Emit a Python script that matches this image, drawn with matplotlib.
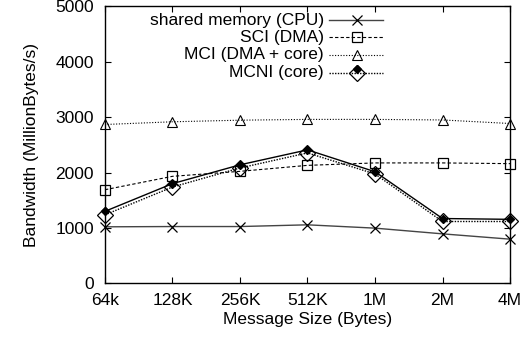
import matplotlib
matplotlib.use("Agg")
import matplotlib.pyplot as plt

plt.rcParams['font.family'] = ['Liberation Sans', 'DejaVu Sans']

sizes = ["64k", "128K", "256K", "512K", "1M", "2M", "4M"]
shared_cpu = [1020, 1025, 1025, 1056, 996, 893, 797]
sci_dma = [1690, 1932, 2022, 2130, 2174, 2174, 2161]
mci_dma_core = [2868, 2917, 2946, 2960, 2960, 2950, 2886]
mcni_core = [1237, 1739, 2083, 2355, 1975, 1116, 1116]
mcni_core_b = [1300, 1800, 2140, 2410, 2015, 1170, 1155]
labels = ["shared memory (CPU)", "SCI (DMA)", "MCI (DMA + core)", "MCNI (core)"]

FS = 12.5
x = list(range(len(sizes)))

fig = plt.figure(figsize=(5.26, 3.40), dpi=100)
ax = fig.add_axes([0.1996, 0.1668, 0.7700, 0.8142])

st_cpu = dict(color='#444444', lw=1.0, marker='x', ms=7, mec='black', mew=0.9)
st_sci = dict(color='black', lw=0.8, ls=(0, (3, 2)), marker='s', ms=7, mfc='none', mec='black', mew=0.9)
st_mci = dict(color='black', lw=0.8, ls=(0, (1, 1.5)), marker='^', ms=6.5, mfc='none', mec='black', mew=0.8)
st_mb = dict(color='black', lw=1.0, ls='-', marker='D', ms=4, mfc='black', mec='black')
st_ma = dict(color='black', lw=1.0, ls=(0, (1, 1)), marker='D', ms=8, mfc='none', mec='black', mew=0.9)

ax.plot(x, shared_cpu, clip_on=False, **st_cpu)
ax.plot(x, sci_dma, clip_on=False, **st_sci)
ax.plot(x, mci_dma_core, clip_on=False, **st_mci)
ax.plot(x, mcni_core_b, clip_on=False, **st_mb)
ax.plot(x, mcni_core, clip_on=False, **st_ma)

ax.set_xlim(0, len(sizes) - 1)
ax.set_ylim(0, 5000)
ax.set_xticks(x)
ax.set_xticklabels(sizes)
ax.set_yticks([0, 1000, 2000, 3000, 4000, 5000])
ax.tick_params(direction='in', length=4, width=0.8, top=True, right=True, labelsize=FS, colors='black')
ax.tick_params(axis='y', pad=8)
ax.tick_params(axis='x', pad=7)
for s in ax.spines.values():
    s.set_linewidth(1.0)
ax.set_xlabel("Message Size (Bytes)", fontsize=FS, labelpad=3)
ax.set_ylabel("Bandwidth (MillionBytes/s)", fontsize=FS, labelpad=12)

# gnuplot-style key: right-aligned text, sample line to the right
tx, xs0, xs1, xm = 0.541, 0.553, 0.686, 0.622
rows = [0.951, 0.889, 0.825, 0.761]
styles = [st_cpu, st_sci, st_mci, st_ma]
for lab, yy, st in zip(labels, rows, styles):
    ax.text(tx, yy, lab, transform=ax.transAxes, ha='right', va='center', fontsize=FS)
    line_st = {k: v for k, v in st.items() if k not in ('marker', 'ms', 'mfc', 'mec', 'mew')}
    ax.plot([xs0, xs1], [yy, yy], transform=ax.transAxes, **line_st)
    mk_st = {k: v for k, v in st.items() if k in ('marker', 'ms', 'mfc', 'mec', 'mew')}
    ax.plot([xm], [yy], transform=ax.transAxes, ls='none', **mk_st)
ax.plot([xm], [rows[3] + 0.012], transform=ax.transAxes, ls='none', marker='D', ms=4, mfc='black', mec='black')

fig.savefig("out.png", dpi=100)
